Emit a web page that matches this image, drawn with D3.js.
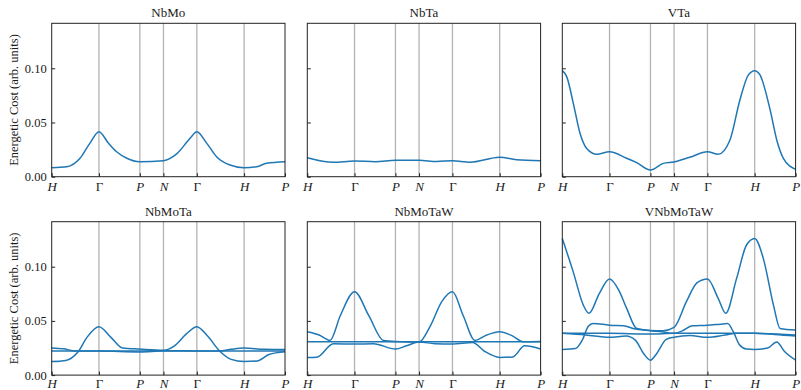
<!doctype html>
<html lang="en">
<head>
  <meta charset="utf-8">
  <title>Energetic cost</title>
  <script src="https://cdnjs.cloudflare.com/ajax/libs/d3/7.8.5/d3.min.js"></script>
  <style>
    body { margin: 0; background: #fff; }
    text { font-family: "Liberation Serif", "DejaVu Serif", serif; fill: #1a1a1a; }
  </style>
</head>
<body>
<div id="chart"></div>
<script>

// high-symmetry path (cumulative length along H-G-P-N-G-H-P)
var kLabels = ["H", "\u0393", "P", "N", "\u0393", "H", "P"];
var kPos = [0, 1, 1.866, 2.366, 3.073, 4.073, 4.939];
var yTicks = [0, 0.05, 0.10];
var titles = ["NbMo", "NbTa", "VTa", "NbMoTa", "NbMoTaW", "VNbMoTaW"];

// each panel: list of bands, each band a list of [k, cost]
var nbmo = [
  [[0,0.0083],[0.32,0.0092],[0.6,0.017],[0.81,0.031],[1,0.0415],[1.2,0.031],[1.375,0.023],[1.59,0.017],
   [1.866,0.0138],[2.366,0.0148],[2.645,0.021],[2.93,0.0354],[3.073,0.0415],[3.28,0.031],[3.49,0.0185],
   [3.775,0.0108],[4.073,0.0083],[4.34,0.0092],[4.55,0.0124],[4.939,0.0138]]
];
var nbta = [
  [[0,0.0175],[0.55,0.0133],[1,0.0145],[1.44,0.0138],[1.866,0.0151],[2.366,0.0151],[2.74,0.014],
   [3.073,0.0148],[3.44,0.0133],[4.073,0.0179],[4.43,0.0157],[4.939,0.0148]]
];
var vta = [
  [[0,0.0978],[0.093,0.0923],[0.233,0.0677],[0.375,0.040],[0.516,0.026],[0.728,0.0207],[1,0.023],
   [1.363,0.017],[1.575,0.013],[1.866,0.0062],[2.14,0.0123],[2.366,0.0136],[2.70,0.0179],[3.073,0.023],
   [3.30,0.0207],[3.55,0.0339],[3.76,0.0708],[3.94,0.0939],[4.073,0.0978],[4.185,0.0939],[4.40,0.0616],
   [4.54,0.0339],[4.68,0.017],[4.939,0.0068]]
];
var nbmota = [
  [[0,0.0125],[0.3,0.0135],[0.55,0.021],[0.75,0.035],[1,0.0446],[1.25,0.035],[1.5,0.025],[1.866,0.024],
   [2.366,0.023],[2.6,0.027],[2.85,0.038],[3.073,0.0446],[3.3,0.036],[3.56,0.022],[3.8,0.0145],
   [4.073,0.0125],[4.35,0.013],[4.6,0.019],[4.939,0.0215]],
  [[0,0.025],[0.25,0.0242],[0.5,0.0222],[1,0.0222],[1.866,0.0222],[2.366,0.0225],[3.073,0.0222],
   [3.56,0.0222],[3.8,0.0238],[4.073,0.025],[4.5,0.0238],[4.939,0.0235]],
  [[0,0.0222],[1,0.0222],[1.866,0.0213],[2.366,0.0222],[3.073,0.0222],[4.073,0.0222],[4.939,0.0222]]
];
var nbmotaw = [
  [[0,0.040],[0.25,0.037],[0.48,0.032],[0.7,0.055],[1,0.0769],[1.3,0.055],[1.61,0.032],[1.866,0.031],
   [2.366,0.0305],[2.6,0.045],[2.85,0.068],[3.073,0.0769],[3.3,0.055],[3.55,0.032],[3.8,0.037],
   [4.073,0.040],[4.35,0.036],[4.57,0.0308],[4.939,0.031]],
  [[0,0.0308],[1,0.0308],[1.866,0.0308],[2.366,0.0308],[3.073,0.0308],[4.073,0.0308],[4.939,0.0308]],
  [[0,0.0163],[0.2,0.0165],[0.55,0.029],[1,0.0286],[1.4,0.029],[1.866,0.024],[2.1,0.027],[2.366,0.0305],
   [2.7,0.029],[3.073,0.0286],[3.5,0.03],[3.75,0.022],[4.073,0.0163],[4.35,0.0168],[4.6,0.027],[4.939,0.024]]
];
var vnbmotaw = [
  [[0,0.126],[0.233,0.095],[0.445,0.0646],[0.565,0.057],[0.78,0.075],[1,0.0886],[1.2,0.078],[1.363,0.0615],
   [1.575,0.043],[1.866,0.0412],[2.14,0.041],[2.366,0.044],[2.63,0.068],[2.85,0.085],[3.073,0.0886],
   [3.30,0.0708],[3.46,0.057],[3.69,0.0892],[3.90,0.12],[4.073,0.126],[4.255,0.1077],[4.47,0.0646],
   [4.61,0.043],[4.939,0.0415]],
  [[0,0.0237],[0.28,0.0245],[0.42,0.032],[0.55,0.045],[0.65,0.0477],[1,0.046],[1.3,0.0455],[1.5,0.043],
   [1.866,0.041],[2.1,0.040],[2.366,0.0385],[2.55,0.041],[2.75,0.0455],[3.073,0.046],[3.35,0.047],
   [3.5,0.0475],[3.62,0.040],[3.75,0.028],[3.9,0.024],[4.073,0.0237],[4.35,0.025],[4.54,0.0305],
   [4.7,0.022],[4.939,0.0138]],
  [[0,0.0385],[1,0.0385],[1.866,0.0378],[2.366,0.0385],[3.073,0.0385],[4.073,0.0385],[4.939,0.037]],
  [[0,0.0385],[0.5,0.037],[1,0.0348],[1.35,0.036],[1.55,0.032],[1.72,0.02],[1.866,0.0138],[2.0,0.02],
   [2.2,0.033],[2.366,0.035],[2.7,0.0365],[3.073,0.0348],[3.45,0.037],[3.7,0.0385],[4.073,0.0385],
   [4.5,0.0375],[4.939,0.036]]
];
var panels = [nbmo, nbta, vta, nbmota, nbmotaw, vnbmotaw];

var W = 801, H = 390;
var lefts = [51.7, 307.3, 562.3], tops = [23.3, 221.7];
var pw = 233.3, ph = 153.4;

var svg = d3.select("#chart").append("svg")
    .attr("width", W)
    .attr("height", H);

var x = d3.scaleLinear().domain([0, kPos[kPos.length - 1]]).range([0, pw]);
var y = d3.scaleLinear().domain([0, 0.1415]).range([ph, 0]);

var line = d3.line()
    .x(function(d) { return x(d[0]); })
    .y(function(d) { return y(d[1]); })
    .curve(d3.curveMonotoneX);

panels.forEach(function(bands, i) {
  var col = i % 3, row = Math.floor(i / 3);
  var g = svg.append("g")
      .attr("transform", "translate(" + lefts[col] + "," + tops[row] + ")");

  // grey lines at interior high-symmetry points
  g.selectAll("line.sym")
    .data(kPos.slice(1, -1))
    .enter().append("line")
      .attr("x1", function(d) { return x(d); })
      .attr("x2", function(d) { return x(d); })
      .attr("y1", 0).attr("y2", ph)
      .attr("stroke", "#b3b3b3")
      .attr("stroke-width", 1.3);

  // bands
  g.selectAll("path.band")
    .data(bands)
    .enter().append("path")
      .attr("d", line)
      .attr("fill", "none")
      .attr("stroke", "#1f77b4")
      .attr("stroke-width", 1.5);

  // x axis, ticks pointing inward
  var xa = g.append("g")
      .attr("transform", "translate(0," + ph + ")")
      .attr("font-family", null)
      .call(d3.axisBottom(x).tickValues(kPos).tickSize(-3.5).tickPadding(row === 0 ? 14 : 12.5)
        .tickFormat(function(d, j) { return kLabels[j]; }));
  xa.attr("font-family", null);
  xa.select(".domain").remove();
  xa.selectAll("text")
      .attr("dy", 0)
      .style("font-size", "13px")
      .style("font-style", function(d, j) { return kLabels[j] === "\u0393" ? "normal" : "italic"; });
  xa.selectAll("line").attr("stroke", "#222");

  // y axis
  var ya = g.append("g")
      .call(d3.axisLeft(y).tickValues(yTicks).tickSize(-3.5).tickPadding(5).tickFormat(d3.format(".2f")));
  ya.attr("font-family", null);
  ya.select(".domain").remove();
  ya.selectAll("line").attr("stroke", "#222");
  ya.selectAll("text").style("font-size", "12.5px");
  if (col > 0) ya.selectAll("text").remove();

  // frame
  g.append("rect")
      .attr("width", pw).attr("height", ph)
      .attr("fill", "none")
      .attr("stroke", "#222")
      .attr("stroke-width", 1);

  // title
  g.append("text")
      .attr("x", pw / 2).attr("y", -6)
      .attr("text-anchor", "middle")
      .style("font-size", "13px")
      .text(titles[i]);

  if (col === 0) {
    g.append("text")
      .attr("transform", "translate(-34," + (ph / 2) + ")rotate(-90)")
      .attr("text-anchor", "middle")
      .style("font-size", "12.5px")
      .text("Energetic Cost (arb. units)");
  }
});

</script>
</body>
</html>
